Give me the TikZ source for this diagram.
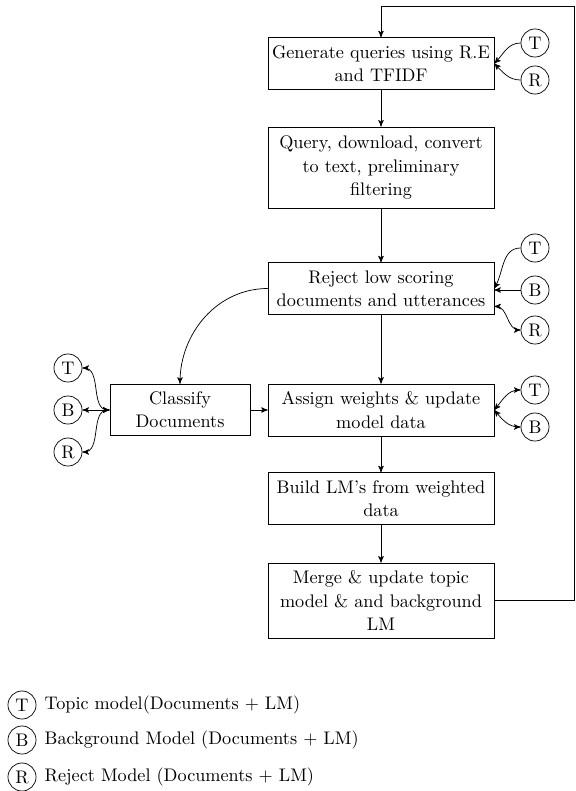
\documentclass[tikz,border=0pt]{standalone}
\usepackage{tikz}
\usetikzlibrary{arrows}
\usetikzlibrary{positioning}

\begin{document}
\begin{tikzpicture}[x=0.0193cm, y=-0.0193cm, >=stealth',
        process/.style={draw, align=center, text width=121pt, inner xsep=1.5pt, inner ysep=4.2pt,
            font=\fontsize{10}{12.8}\selectfont},
        model/.style={draw, circle, inner sep=0.5pt, minimum size=15.4pt}]
        \useasboundingbox (0, 0) rectangle (576, 791);
        % main column
        \node[process] (gen) at (381, 63.5) {Generate queries using R.E\\and TFIDF};
        \node[process, minimum height=44.5pt] (query) at (381, 167.5) {Query, download, convert\\to text, preliminary\\filtering};
        \node[process] (reject) at (381, 288.5) {Reject low scoring\\documents and utterances};
        \node[process] (assign) at (381, 410) {Assign weights \& update\\model data};
        \node[process] (build) at (381, 498.5) {Build LM's from weighted\\data};
        \node[process] (merge) at (381, 600.5) {Merge \& update topic\\model \& and background\\LM};
        \node[process, text width=70pt, inner xsep=3.5pt] (classify) at (180, 410) {Classify\\Documents};
        \coordinate (loop) at (574.5, 6);

        % models
        \node[model] (gent) at (535, 43) {T};
        \node[model] (genr) at (535, 80) {R};
        \node[model] (rejt) at (535, 248) {T};
        \node[model] (rejb) at (535, 290) {B};
        \node[model] (rejr) at (535, 330) {R};
        \node[model] (asgt) at (535, 390) {T};
        \node[model] (asgb) at (535, 427) {B};
        \node[model] (clst) at (68, 368) {T};
        \node[model] (clsb) at (68, 410) {B};
        \node[model] (clsr) at (68, 452) {R};

        \draw[->] (gen) -- (query);
        \draw[->] (query) -- (reject);
        \draw[->] (reject) -- (assign);
        \draw[->] (assign) -- (build);
        \draw[->] (build) -- (merge);
        \draw[->] (merge.east) -| (loop) -| (gen.north);
        \draw[->] (reject.west) to[out=180, in=90] (classify.north);
        \draw[->] (classify) -- (assign);

        \draw[->] (gent.west) to[out=180, in=45] (gen.east);
        \draw[->] (genr.west) to[out=180, in=-45] (gen.east);
        \draw[->] (rejt.west) to[out=180, in=60] (reject.east);
        \draw[->] (rejb.west) -- (rejb.west -| reject.east);
        \draw[<->] (reject.-9) to[out=0, in=180] (rejr.west);
        \draw[<->] (assign.east) to[out=50, in=180] (asgt.west);
        \draw[<->] (assign.east) to[out=-50, in=180] (asgb.west);
        \draw[<->] (classify.west) to[out=180, in=0] (clst.east);
        \draw[<->] (classify.west) -- (clsb.east);
        \draw[<->] (classify.west) to[out=180, in=0] (clsr.east);

        % legend
        \node[model] (legt) at (22, 705) {T};
        \node[model] (legb) at (22, 740) {B};
        \node[model] (legr) at (22, 777) {R};
        \node[right=1pt of legt] (legtext1) {Topic model(Documents + LM)};
        \node[right=1pt of legb] (legtext2) {Background Model (Documents + LM)};
        \node[right=1pt of legr] (legtext3) {Reject Model (Documents + LM)};
\end{tikzpicture}
\end{document}
